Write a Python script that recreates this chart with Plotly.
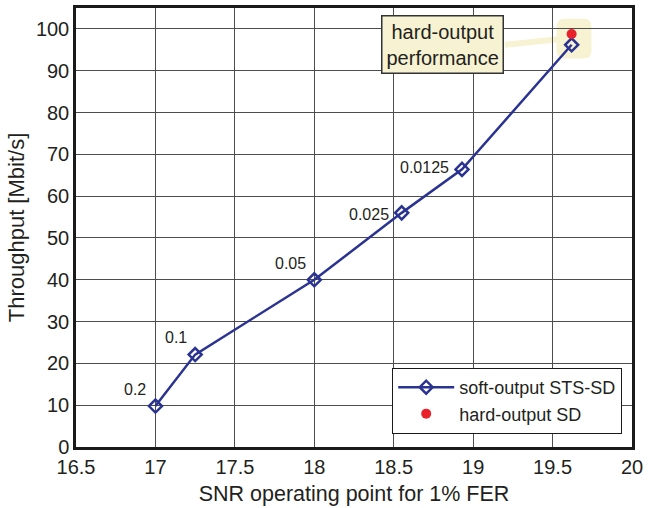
import plotly.graph_objects as go

# Soft-output STS sphere decoder: SNR operating point vs throughput,
# labelled with the clipping parameter of each run.
snr_soft = [17.0, 17.25, 18.0, 18.55, 18.93, 19.62]
thr_soft = [9.8, 22.1, 40.0, 56.0, 66.4, 96.2]
param_labels = ["0.2", "0.1", "0.05", "0.025", "0.0125"]

# Hard-output sphere decoder reference point
snr_hard = [19.62]
thr_hard = [98.8]

x_ticks = [16.5, 17, 17.5, 18, 18.5, 19, 19.5, 20]
y_ticks = [0, 10, 20, 30, 40, 50, 60, 70, 80, 90, 100]

FONT = "Liberation Sans, Arial, Helvetica, sans-serif"
TEXT = "#231f20"
BLUE = "#2b3391"
RED = "#e8212b"
BEIGE = "#f6f2d2"

fig = go.Figure()

fig.add_trace(go.Scatter(
    x=snr_soft, y=thr_soft, mode="lines+markers",
    name="soft-output STS-SD",
    line=dict(color=BLUE, width=2.5),
    marker=dict(symbol="diamond-open", size=10, color=BLUE,
                line=dict(width=2.5, color=BLUE)),
))
fig.add_trace(go.Scatter(
    x=snr_hard, y=thr_hard, mode="markers",
    name="hard-output SD",
    marker=dict(symbol="circle", size=10, color=RED),
))


def rounded_rect(x0, x1, y0, y1, rx, ry):
    """SVG path of a rectangle with rounded corners in data units."""
    return (f"M {x0 + rx},{y0} L {x1 - rx},{y0} Q {x1},{y0} {x1},{y0 + ry} "
            f"L {x1},{y1 - ry} Q {x1},{y1} {x1 - rx},{y1} "
            f"L {x0 + rx},{y1} Q {x0},{y1} {x0},{y1 - ry} "
            f"L {x0},{y0 + ry} Q {x0},{y0} {x0 + rx},{y0} Z")


# highlight patch behind the hard-output point and its callout connector
fig.add_shape(type="line", xref="x", yref="y",
              x0=19.2, y0=96.2, x1=19.55, y1=97.6,
              line=dict(color=BEIGE, width=6), layer="below")
fig.add_shape(type="path", xref="x", yref="y",
              path=rounded_rect(19.525, 19.745, 92.9, 102.4, 0.05, 2.0),
              fillcolor=BEIGE, line=dict(width=0), layer="below")

fig.add_annotation(
    x=18.81, y=96.2, xref="x", yref="y", showarrow=False,
    text="hard-output<br>performance",
    font=dict(family=FONT, size=20, color=TEXT),
    bgcolor=BEIGE, bordercolor="#333333", borderwidth=1.5, borderpad=4,
)

# parameter labels next to the soft-output points
label_shift = [(-7, 6), (-6, 7), (-6, 6), (-11, -2), (-11, 2)]
for xv, yv, txt, (dx, dy) in zip(snr_soft, thr_soft, param_labels, label_shift):
    fig.add_annotation(
        x=xv, y=yv, xref="x", yref="y", text=txt, showarrow=False,
        xanchor="right", yanchor="bottom" if dy > 2 else "middle",
        xshift=dx, yshift=dy,
        font=dict(family=FONT, size=16, color=TEXT),
    )

axis_common = dict(
    showline=True, mirror=True, linecolor="#1a1a1a", linewidth=2.5,
    showgrid=True, gridcolor="#4d4d4d", gridwidth=1,
    zeroline=False, ticks="", color=TEXT,
    tickfont=dict(family=FONT, size=20, color=TEXT),
)

fig.update_xaxes(
    range=[16.5, 20], tickvals=x_ticks,
    ticktext=[f"{v:g}" for v in x_ticks],
    title=dict(text="SNR operating point for 1% FER",
               font=dict(family=FONT, size=21.5, color=TEXT), standoff=10),
    **axis_common,
)
fig.update_yaxes(
    range=[0, 105], tickvals=y_ticks,
    title=dict(text="Throughput [Mbit/s]",
               font=dict(family=FONT, size=22, color=TEXT), standoff=6),
    **axis_common,
)

fig.update_layout(
    width=648, height=508,
    margin=dict(l=76, r=12, t=5, b=61),
    paper_bgcolor="white", plot_bgcolor="white",
    font=dict(family=FONT, color=TEXT),
    showlegend=True,
    legend=dict(
        x=0.982, y=0.03, xanchor="right", yanchor="bottom",
        bgcolor="white", bordercolor="#1a1a1a", borderwidth=1.2,
        font=dict(family=FONT, size=18, color=TEXT),
        itemwidth=56, tracegroupgap=2,
    ),
)

fig.write_html("out.html")
